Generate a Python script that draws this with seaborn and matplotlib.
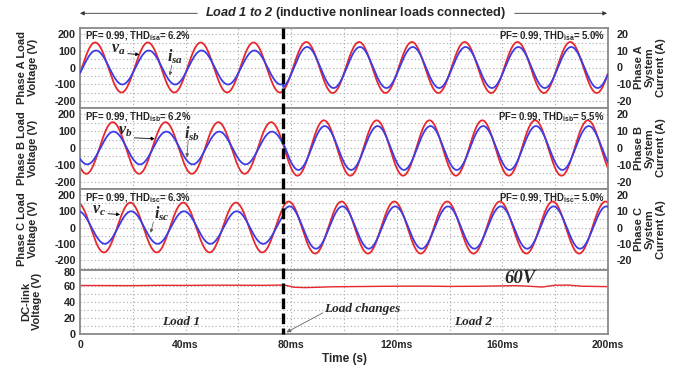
import numpy as np
import pandas as pd
import matplotlib
matplotlib.use("Agg")
import matplotlib.pyplot as plt
import matplotlib.transforms as mtransforms
from matplotlib.ticker import MultipleLocator, FixedLocator
import seaborn as sns

# ---------------- data ----------------
phase_names = ["A", "B", "C"]
phase_sub = ["a", "b", "c"]
phase_offset_deg = [-13, -133, 107]      # phase angle of load voltage at t = 0
v_peak_load1 = [150, 153, 153]           # V, before load change
v_peak_load2 = [153, 164, 160]           # V, after load change
i_peak_load1 = [10.2, 9.7, 10.0]         # A, before load change
i_peak_load2 = [12.3, 13.0, 13.0]        # A, after load change
i_lag_deg = [6, 6, 6]
thd_load1 = ["6.2%", "6.2%", "6.3%"]
thd_load2 = ["5.0%", "5.5%", "5.0%"]
pf_value = "0.99"
freq_hz = 50
t_change_ms = 77

dc_t_ms = [0, 10, 20, 30, 40, 50, 60, 70, 76, 78, 81, 85, 90, 95, 100, 110, 120,
           130, 140, 150, 160, 165, 170, 175, 180, 185, 190, 200]
dc_v = [60.5, 60.4, 60.3, 60.7, 60.6, 60.9, 60.8, 60.7, 61.0, 60.6, 58.3, 57.8,
        58.2, 58.8, 59.0, 59.3, 59.6, 59.7, 59.3, 59.5, 60.0, 60.3, 59.6, 58.5,
        60.8, 61.0, 59.6, 59.0]

xtick_vals = [0, 40, 80, 120, 160, 200]
xtick_labels = ["0", "40ms", "80ms", "120ms", "160ms", "200ms"]
v_ticks = [-200, -100, 0, 100, 200]
i_ticks = [-20, -10, 0, 10, 20]
dc_ticks = [0, 20, 40, 60, 80]

# annotation anchors (t in ms, value in V) for v_x and i_sx labels
v_lbl = [(14.5, 108), (17.0, 100), (7.0, 103)]
v_tip = [(22.5, 78), (28.3, 55), (15.2, 80)]
i_lbl = [(36.0, 62), (42.4, 85), (31.0, 84)]
i_tail = [(34.8, 15), (41.0, 45), (27.8, 35)]
i_tip = [(34.0, -48), (40.5, -55), (26.8, -32)]

RED = "#e8282c"
BLUE = "#3c3ce8"
GRIDC = "#a8a8a8"
SPINEC = "#8a8a8a"

sns.set_theme(style="white")
plt.rcParams["font.family"] = ["Liberation Sans", "DejaVu Sans"]
plt.rcParams["font.weight"] = "bold"
plt.rcParams["mathtext.fontset"] = "custom"
plt.rcParams["mathtext.rm"] = "Liberation Sans:bold"
plt.rcParams["mathtext.bf"] = "Liberation Sans:bold"
plt.rcParams["mathtext.it"] = "Liberation Serif:italic:bold"
plt.rcParams["mathtext.sf"] = "Liberation Sans:italic:bold"

W, H = 682, 370
fig = plt.figure(figsize=(W / 100, H / 100), dpi=100)

left_px, right_px = 80, 608
rows_px = [(27.5, 107.5), (107.5, 188.5), (188.5, 270.0), (270.0, 333.5)]
v_lims = [(-240, 240), (-240, 240), (-261, 240)]


def add_axes(top, bot):
    return fig.add_axes([left_px / W, 1 - bot / H, (right_px - left_px) / W, (bot - top) / H])


def style_axes(ax):
    for s in ax.spines.values():
        s.set_color(SPINEC)
        s.set_linewidth(1.3)
    ax.set_axisbelow(True)
    ax.grid(which="both", color=GRIDC, linestyle=(0, (1, 2.2)), linewidth=0.8)
    ax.tick_params(which="both", length=0)
    ax.set_xlim(0, 200)
    ax.xaxis.set_major_locator(FixedLocator(xtick_vals))
    ax.xaxis.set_minor_locator(MultipleLocator(20))


t = np.linspace(0, 200, 2001)
w = 2 * np.pi * freq_hz / 1000.0

axes = []
for k in range(3):
    ax = add_axes(*rows_px[k])
    style_axes(ax)
    vamp = np.where(t < t_change_ms, v_peak_load1[k], v_peak_load2[k])
    iamp = np.where(t < t_change_ms, i_peak_load1[k], i_peak_load2[k])
    ph = np.deg2rad(phase_offset_deg[k])
    v = vamp * np.sin(w * t + ph)
    i = iamp * np.sin(w * t + ph - np.deg2rad(i_lag_deg[k]))
    dfv = pd.DataFrame({"t": t, "v": v})
    dfi = pd.DataFrame({"t": t, "i": i})
    sns.lineplot(data=dfv, x="t", y="v", ax=ax, color=RED, linewidth=1.3,
                 estimator=None, sort=False)
    ax.set_ylim(*v_lims[k])
    ax.yaxis.set_major_locator(FixedLocator(v_ticks))
    ax.yaxis.set_minor_locator(MultipleLocator(50))
    ax.set_yticklabels([str(x) for x in v_ticks], fontsize=7.8, fontweight="bold")
    ax.tick_params(axis="y", pad=3)
    ax.set_xticklabels([])
    ax.set_xlabel("")
    ax.set_ylabel("")

    ax2 = ax.twinx()
    sns.lineplot(data=dfi, x="t", y="i", ax=ax2, color=BLUE, linewidth=1.3,
                 estimator=None, sort=False)
    ax2.set_ylim(v_lims[k][0] / 10, v_lims[k][1] / 10)
    ax2.yaxis.set_major_locator(FixedLocator(i_ticks))
    ax2.set_yticklabels([str(x) for x in i_ticks], fontsize=7.8, fontweight="bold")
    ax2.tick_params(axis="y", length=0, pad=6)
    ax2.grid(False)
    for s in ax2.spines.values():
        s.set_visible(False)
    ax2.set_ylabel("")
    ax2.set_xlim(0, 200)

    sub = "is" + phase_sub[k]
    ax.text(0.009, 0.895, f"PF= {pf_value}, THD$_{{\\mathrm{{{sub}}}}}$= {thd_load1[k]}",
            transform=ax.transAxes, fontsize=6.9, fontweight="bold", ha="left", va="center")
    ax.text(0.994, 0.895, f"PF= {pf_value}, THD$_{{\\mathrm{{{sub}}}}}$= {thd_load2[k]}",
            transform=ax.transAxes, fontsize=6.9, fontweight="bold", ha="right", va="center")

    # v_x label and arrow
    ax.text(v_lbl[k][0], v_lbl[k][1], f"$v_{phase_sub[k]}$", fontsize=11.5,
            ha="center", va="center", zorder=5)
    ax.annotate("", xy=v_tip[k], xytext=(v_lbl[k][0] + 3.6, v_tip[k][1] + 5),
                arrowprops=dict(arrowstyle="-|>", color="black", lw=0.6,
                                mutation_scale=5, shrinkA=0, shrinkB=0), zorder=6)
    ax.text(i_lbl[k][0], i_lbl[k][1], f"$i_{{s{phase_sub[k]}}}$", fontsize=11.5,
            ha="center", va="center", zorder=5)
    ax.annotate("", xy=i_tip[k], xytext=i_tail[k],
                arrowprops=dict(arrowstyle="-|>", color="#555555", lw=0.5,
                                mutation_scale=5, shrinkA=0, shrinkB=0), zorder=6)

    yc = 1 - (rows_px[k][0] + rows_px[k][1]) / 2 / H
    fig.text(0.040, yc, f"Phase {phase_names[k]} Load\nVoltage (V)", rotation=90,
             ha="center", va="center", fontsize=8, fontweight="bold",
             multialignment="center", linespacing=1.15)
    fig.text(0.953, yc, f"Phase {phase_names[k]}\nSystem\nCurrent (A)", rotation=90,
             ha="center", va="center", fontsize=8, fontweight="bold",
             multialignment="center", linespacing=1.1)
    axes.append(ax)

# DC-link panel
axd = add_axes(*rows_px[3])
style_axes(axd)
dfd = pd.DataFrame({"t": dc_t_ms, "v": dc_v})
sns.lineplot(data=dfd, x="t", y="v", ax=axd, color=RED, linewidth=1.0,
             estimator=None, sort=False)
axd.set_ylim(0, 80)
axd.yaxis.set_major_locator(FixedLocator(dc_ticks))
axd.yaxis.set_minor_locator(MultipleLocator(10))
axd.set_yticklabels([str(x) for x in dc_ticks], fontsize=7.8, fontweight="bold")
axd.set_xticklabels(xtick_labels, fontsize=7.5, fontweight="bold")
axd.tick_params(axis="y", pad=3)
axd.tick_params(axis="x", pad=5)
# nudge the top "80" label slightly down, like the reference
lbl80 = axd.get_yticklabels()[-1]
lbl80.set_transform(lbl80.get_transform() + mtransforms.ScaledTranslation(0, -1.5 / 72, fig.dpi_scale_trans))
axd.set_ylabel("")
axd.set_xlabel("Time (s)", fontsize=8.5, fontweight="bold", labelpad=2)

serif_kw = dict(family="Liberation Serif", style="italic", weight="bold")
axd.text(166.5, 69.5, "60V", fontsize=13.5, ha="center", va="center", **serif_kw)
axd.text(38.2, 15, "Load 1", fontsize=9.5, ha="center", va="center", **serif_kw)
axd.text(149, 15, "Load 2", fontsize=9.5, ha="center", va="center", **serif_kw)
axd.text(107, 31, "Load changes", fontsize=9.5, ha="center", va="center", **serif_kw)
axd.annotate("", xy=(78.2, 1.5), xytext=(92, 26),
             arrowprops=dict(arrowstyle="-|>", color="#666666", lw=0.6,
                             mutation_scale=6, shrinkA=0, shrinkB=0))
fig.text(0.046, 1 - (rows_px[3][0] + rows_px[3][1]) / 2 / H, "DC-link\nVoltage (V)",
         rotation=90, ha="center", va="center", fontsize=8, fontweight="bold",
         multialignment="center", linespacing=1.15)

# vertical dashed line marking the load change
trans = mtransforms.blended_transform_factory(axes[0].transData, fig.transFigure)
fig.add_artist(plt.Line2D([t_change_ms, t_change_ms], [1 - 27.5 / H, 1 - 333.5 / H],
                          transform=trans, color="black", lw=2.4,
                          linestyle=(0, (3.2, 1.3)), zorder=10))

# top caption with double arrow
ty = 1 - 13.3 / H
cap = fig.text(0.522, ty, r"$\mathsf{Load\ 1\ to\ 2}$ (inductive nonlinear loads connected)",
               ha="center", va="center", fontsize=9.2, fontweight="bold")
fig.canvas.draw()
bb = cap.get_window_extent().transformed(fig.transFigure.inverted())
arr_kw = dict(arrowstyle="-|>", color="#333333", lw=0.6, mutation_scale=6,
              shrinkA=0, shrinkB=0)
fig.add_artist(matplotlib.patches.FancyArrowPatch((bb.x0 - 0.012, ty), (left_px / W, ty),
                                                  transform=fig.transFigure, **arr_kw))
fig.add_artist(matplotlib.patches.FancyArrowPatch((bb.x1 + 0.012, ty), ((right_px - 1) / W, ty),
                                                  transform=fig.transFigure, **arr_kw))

fig.savefig("out.png", dpi=100, facecolor="white")
